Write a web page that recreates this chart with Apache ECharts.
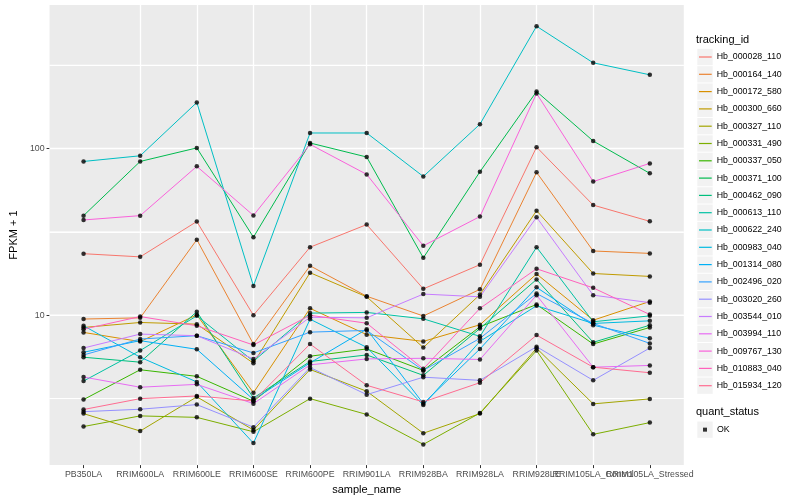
<!DOCTYPE html>
<html><head><meta charset="utf-8">
<script src="https://cdn.jsdelivr.net/npm/echarts@6/dist/echarts.min.js"></script>
<style>html,body{margin:0;padding:0;background:#fff}#c{width:800px;height:500px}</style>
</head><body><div id="c"></div>
<script>
const categories = ['PB350LA','RRIM600LA','RRIM600LE','RRIM600SE','RRIM600PE','RRIM901LA','RRIM928BA','RRIM928LA','RRIM928LE','RRIM105LA_Control','RRIM105LA_Stressed'];
const trackingIds = ['Hb_000028_110','Hb_000164_140','Hb_000172_580','Hb_000300_660','Hb_000327_110','Hb_000331_490','Hb_000337_050','Hb_000371_100','Hb_000462_090','Hb_000613_110','Hb_000622_240','Hb_000983_040','Hb_001314_080','Hb_002496_020','Hb_003020_260','Hb_003544_010','Hb_003994_110','Hb_009767_130','Hb_010883_040','Hb_015934_120'];
const yTickLabels = [10, 100];
const yMinorBreaks = [3.162, 31.62, 316.2];

const hb_000028_110 = [23.4, 22.4, 36.5, 10.0, 25.6, 35.0, 14.4, 20.1, 102, 45.8, 36.6];
const hb_000164_140 = [9.49, 9.65, 28.4, 6.72, 19.8, 13.0, 9.9, 14.3, 72.0, 24.3, 23.5];
const hb_000172_580 = [7.89, 6.95, 10.05, 3.43, 11.0, 7.65, 6.97, 8.77, 17.7, 9.34, 12.1];
const hb_000300_660 = [8.45, 9.05, 8.84, 5.16, 18.0, 12.9, 6.40, 13.3, 42.4, 17.8, 17.1];
const hb_000327_110 = [2.57, 2.02, 3.24, 2.05, 4.73, 3.50, 1.96, 2.57, 6.34, 2.94, 3.15];
const hb_000331_490 = [2.15, 2.49, 2.44, 2.00, 3.16, 2.54, 1.68, 2.59, 6.14, 1.93, 2.27];
const hb_000337_050 = [3.12, 4.71, 4.30, 3.05, 5.68, 6.28, 4.67, 8.53, 11.6, 6.72, 8.45];
const hb_000371_100 = [39.6, 83.7, 100.9, 29.4, 108, 89, 22.1, 72.6, 220, 111, 71];
const hb_000462_090 = [5.60, 5.23, 10.5, 3.19, 5.28, 5.78, 4.36, 8.33, 16.4, 6.88, 8.72];
const hb_000613_110 = [4.03, 6.14, 9.92, 5.30, 10.3, 10.4, 9.52, 7.47, 25.6, 9.14, 9.92];
const hb_000622_240 = [83.7, 90.5, 189, 15.0, 124, 124, 68, 140, 542, 327, 277];
const hb_000983_040 = [8.65, 5.60, 3.98, 1.71, 9.47, 6.42, 2.89, 6.97, 11.4, 8.93, 9.26];
const hb_001314_080 = [6.00, 7.04, 6.25, 3.12, 5.18, 8.25, 2.95, 6.28, 14.7, 8.72, 7.27];
const hb_002496_020 = [5.78, 7.20, 7.54, 5.94, 7.92, 8.11, 4.67, 7.27, 13.5, 8.93, 6.78];
const hb_003020_260 = [2.64, 2.73, 2.91, 2.13, 4.86, 3.34, 4.25, 4.07, 6.48, 4.07, 6.36];
const hb_003544_010 = [6.36, 7.71, 7.54, 5.47, 9.73, 9.65, 13.4, 12.9, 38.7, 13.2, 11.9];
const hb_003994_110 = [4.26, 3.70, 3.85, 2.95, 5.04, 5.47, 5.52, 5.43, 13.2, 4.88, 5.00];
const hb_009767_130 = [37.3, 39.6, 78.2, 39.7, 106, 70, 26.1, 39.1, 214, 63.4, 81.5];
const hb_010883_040 = [8.25, 9.82, 8.65, 6.63, 10.0, 8.96, 4.77, 11.0, 19.0, 14.6, 10.1];
const hb_015934_120 = [2.72, 3.16, 3.28, 3.06, 6.72, 3.80, 3.02, 3.94, 7.60, 4.88, 4.52];

const seriesValues = [hb_000028_110, hb_000164_140, hb_000172_580, hb_000300_660, hb_000327_110, hb_000331_490, hb_000337_050, hb_000371_100, hb_000462_090, hb_000613_110, hb_000622_240, hb_000983_040, hb_001314_080, hb_002496_020, hb_003020_260, hb_003544_010, hb_003994_110, hb_009767_130, hb_010883_040, hb_015934_120];

const palette = ['#F8766D','#EA8331','#D89000','#C09B00','#A3A500','#7CAE00','#39B600','#00BB4E','#00BF7D','#00C1A3','#00BFC4','#00BAE0','#00B0F6','#35A2FF','#9590FF','#C77CFF','#E76BF3','#FA62DB','#FF62BC','#FF6C91'];

const FONT = '"Liberation Sans", Arial, Helvetica, sans-serif';
const catIdx = categories.map((c, i) => i);
const labelIdxA = catIdx.filter(i => i % 2 === 0);
const labelIdxB = catIdx.filter(i => i % 2 === 1);
const X_MIN = -0.6, X_MAX = 10.6;
const Y_MIN = 1.262, Y_MAX = 726.6;
const GRID_WHITE = '#FFFFFF';

const gridSeries = yMinorBreaks.map(v => [v, 1]).concat(yTickLabels.map(v => [v, 1.5])).map(([v, w], j) => ({
  type: 'line', name: '_grid' + j, color: GRID_WHITE, xAxisIndex: 0, yAxisIndex: 0,
  data: [[X_MIN, v], [X_MAX, v]], symbol: 'none', silent: true, z: 1, clip: false, animation: false,
  lineStyle: { color: GRID_WHITE, width: w, opacity: 1 }, itemStyle: { color: GRID_WHITE },
  emphasis: { disabled: true }
}));

const lineSeries = trackingIds.map((id, k) => ({
  type: 'line', name: id, color: palette[k], xAxisIndex: 0, yAxisIndex: 0,
  data: seriesValues[k].map((v, i) => [i, v]),
  symbol: 'none', lineStyle: { width: 1, color: palette[k] }, itemStyle: { color: palette[k] },
  animation: false, silent: true, z: 2
}));
const points = [];
seriesValues.forEach(vals => vals.forEach((v, i) => points.push([i, v])));
const pointSeries = {
  type: 'scatter', name: 'OK', data: points, symbol: 'circle', symbolSize: 4.5, xAxisIndex: 0, yAxisIndex: 0,
  itemStyle: { color: '#000' }, animation: false, silent: true, z: 3
};

const keyBoxes = trackingIds.map((id, i) => ({
  type: 'rect', left: 697.3, top: 48.85 + i * 17.3, shape: { width: 15.4, height: 16.3 },
  style: { fill: '#F2F2F2' }, z: 0, silent: true
}));
keyBoxes.push({ type: 'rect', left: 697.3, top: 421.5, shape: { width: 15.4, height: 16.3 }, style: { fill: '#F2F2F2' }, z: 0, silent: true });

const xLabelFmt = v => (Math.abs(v - Math.round(v)) < 1e-6 && categories[Math.round(v)]) ? categories[Math.round(v)] : '';
const xBase = (tickVals, labelVals, extra) => Object.assign({
  type: 'value', min: X_MIN, max: X_MAX, minInterval: 1, maxInterval: 1, position: 'bottom', offset: 0,
  axisLine: { show: false, onZero: false },
  axisTick: tickVals ? { show: true, length: 3, lineStyle: { color: '#333333', width: 1 }, customValues: tickVals } : { show: false },
  axisLabel: { customValues: labelVals, showMinLabel: true, showMaxLabel: true, hideOverlap: false,
    color: '#4D4D4D', fontSize: 8.8, fontFamily: FONT, margin: 5, formatter: xLabelFmt }
}, extra);

const chart = echarts.init(document.getElementById('c'));
chart.setOption({
  animation: false,
  backgroundColor: '#fff',
  grid: { left: 39.8, right: 116.2, top: 5, bottom: 31.3, show: true, backgroundColor: '#EBEBEB', borderWidth: 0, containLabel: false },
  xAxis: [
    xBase(catIdx, labelIdxA, {
      splitLine: { show: true, showMinLine: false, showMaxLine: false, lineStyle: { color: GRID_WHITE, width: 1.3 } },
      name: 'sample_name', nameLocation: 'middle', nameGap: 14,
      nameTextStyle: { color: '#000', fontSize: 11, fontFamily: FONT }
    }),
    xBase(null, labelIdxB, { splitLine: { show: false } })
  ],
  yAxis: [
    {
      type: 'log', logBase: 10, min: Y_MIN, max: Y_MAX,
      axisLine: { show: false, onZero: false },
      axisTick: { show: true, length: 3, lineStyle: { color: '#333333', width: 1 } },
      axisLabel: { color: '#4D4D4D', fontSize: 8.8, fontFamily: FONT, margin: 5, showMinLabel: false, showMaxLabel: false,
        formatter: v => { if (Math.abs(v - yTickLabels[0]) < 0.5) return '10'; if (Math.abs(v - yTickLabels[1]) < 5) return '100'; return ''; } },
      splitLine: { show: false },
      name: 'FPKM + 1', nameLocation: 'middle', nameGap: 22, nameRotate: 90,
      nameTextStyle: { color: '#000', fontSize: 11, fontFamily: FONT }
    },
    {
      type: 'value', min: Math.log10(Y_MIN), max: Math.log10(Y_MAX), minInterval: 0.5, maxInterval: 0.5, position: 'right',
      axisLine: { show: false, onZero: false }, axisTick: { show: false }, axisLabel: { show: false },
      splitLine: { show: true, showMinLine: false, showMaxLine: false, lineStyle: { color: GRID_WHITE, width: 1 } }
    }
  ],
  title: [
    { text: 'tracking_id', left: 696, top: 34, padding: 0, textStyle: { fontSize: 11, fontWeight: 'normal', color: '#000', fontFamily: FONT } },
    { text: 'quant_status', left: 696, top: 406, padding: 0, textStyle: { fontSize: 11, fontWeight: 'normal', color: '#000', fontFamily: FONT } }
  ],
  legend: [
    { data: trackingIds, orient: 'vertical', left: 699, top: 48.35, itemWidth: 12.7, itemHeight: 1.2, itemGap: 0, padding: 0,
      icon: 'rect', selectedMode: false, textStyle: { fontSize: 8.8, lineHeight: 17.3, color: '#000', fontFamily: FONT } },
    { data: ['OK'], orient: 'vertical', left: 703, top: 421.5, itemWidth: 4, itemHeight: 4, itemGap: 0, padding: 0, icon: 'rect',
      selectedMode: false, textStyle: { fontSize: 8.8, lineHeight: 16.3, color: '#000', fontFamily: FONT, padding: [0, 0, 0, 5] } }
  ],
  graphic: { elements: keyBoxes },
  series: gridSeries.concat(lineSeries, [pointSeries])
});
</script></body></html>
